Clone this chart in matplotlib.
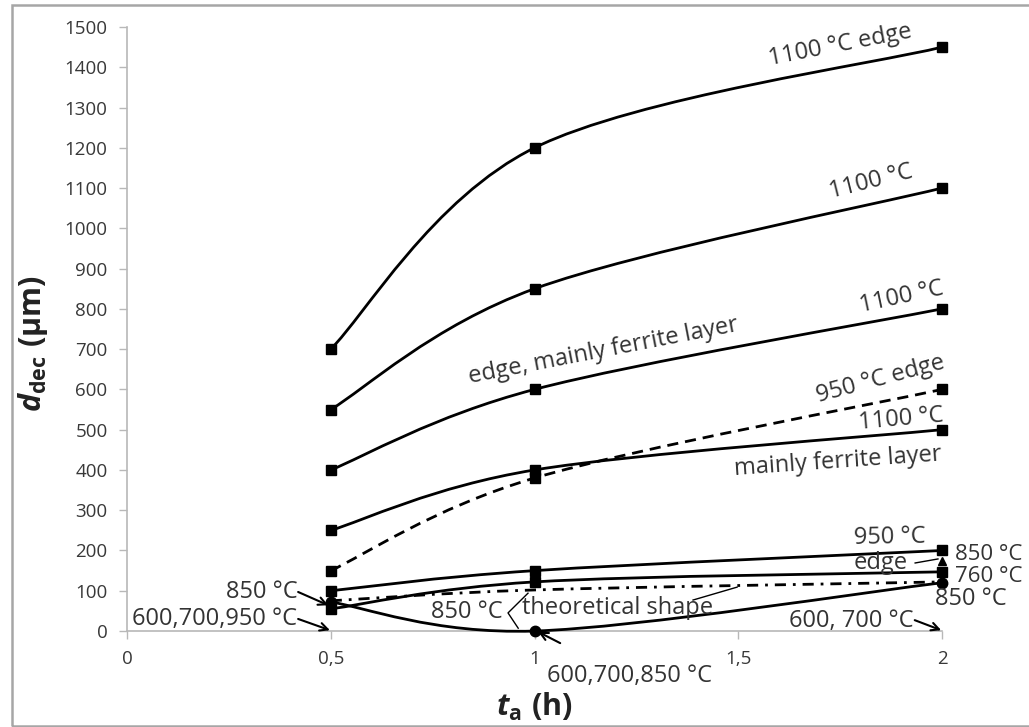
import numpy as np
import matplotlib
matplotlib.use("Agg")
import matplotlib.pyplot as plt
from matplotlib.path import Path
from matplotlib.patches import PathPatch, Rectangle

plt.rcParams['font.family'] = ['Open Sans', 'DejaVu Sans']
plt.rcParams['mathtext.fontset'] = 'custom'
plt.rcParams['mathtext.rm'] = 'Open Sans'
plt.rcParams['mathtext.bf'] = 'Open Sans:bold'
plt.rcParams['mathtext.it'] = 'Open Sans:italic'
plt.rcParams['mathtext.bfit'] = 'Open Sans:bold:italic'

# annealing time (h)
t_a = [0.5, 1, 2]

# decarburized depth (um)
d_1100_edge = [700, 1200, 1450]
d_1100 = [550, 850, 1100]
d_1100_edge_ferrite = [400, 600, 800]
d_950_edge = [150, 380, 600]
d_1100_ferrite = [250, 400, 500]
d_950 = [100, 150, 200]
d_760 = [55, 122, 147]
d_850 = [72, 0, 120]
d_theory = [75, 102, 122]
t_850_edge = [2]
d_850_edge = [175]

TXT = '#333333'
GRID = '#b8b8b8'


def smooth_path(xs, ys):
    # cubic bezier through the points, like a spreadsheet "smoothed line"
    p = np.column_stack([xs, ys]).astype(float)
    n = len(p)
    verts = [p[0]]
    codes = [Path.MOVETO]
    for i in range(n - 1):
        prev = p[i - 1] if i > 0 else p[i]
        nxt = p[i + 2] if i + 2 < n else p[i + 1]
        c1 = p[i] + (p[i + 1] - prev) / 6
        c2 = p[i + 1] - (nxt - p[i]) / 6
        verts += [c1, c2, p[i + 1]]
        codes += [Path.CURVE4] * 3
    return Path(verts, codes)


def draw(ax, xs, ys, marker='s', ms=6.5, dashes=None):
    patch = PathPatch(smooth_path(xs, ys), fill=False, ec='black', lw=2.0,
                      clip_on=False, zorder=3, capstyle='butt')
    if dashes is not None:
        patch.set_linestyle((0, dashes))
    ax.add_patch(patch)
    ax.plot(xs, ys, ls='none', marker=marker, ms=ms, color='black',
            clip_on=False, zorder=4)


fig = plt.figure(figsize=(10.29, 7.27), dpi=100)
ax = fig.add_axes([0.1234, 0.1320, 0.7921, 0.8309])

draw(ax, t_a, d_1100_edge)
draw(ax, t_a, d_1100)
draw(ax, t_a, d_1100_edge_ferrite)
draw(ax, t_a, d_950_edge, dashes=(4, 2.5))
draw(ax, t_a, d_1100_ferrite)
draw(ax, t_a, d_950)
draw(ax, t_a, d_760)
draw(ax, t_a, d_850, marker='o', ms=7.5)
draw(ax, t_a, d_theory, marker='none', dashes=(4, 2.5, 1, 2.5))
ax.plot(t_850_edge, d_850_edge, ls='none', marker='^', ms=6, color='black',
        clip_on=False, zorder=4)

ax.set_xlim(0, 2)
ax.set_ylim(0, 1500)
ax.set_xticks([0, 0.5, 1, 1.5, 2])
ax.set_xticklabels(['0', '0,5', '1', '1,5', '2'])
ax.set_yticks(np.arange(0, 1501, 100))

for s in ['top', 'right']:
    ax.spines[s].set_visible(False)
for s in ['left', 'bottom']:
    ax.spines[s].set_color(GRID)
    ax.spines[s].set_linewidth(1.2)
ax.tick_params(axis='both', direction='out', length=6, width=1, color=GRID,
               labelsize=13.5, labelcolor='#383838', pad=8)

ax.set_xlabel(r'$\mathbfit{t}_{\mathbf{a}}\ \mathbf{(h)}$', fontsize=22,
              color='#222222', labelpad=16)
ax.set_ylabel(r'$\mathbfit{d}_{\mathbf{dec}}\ \mathbf{(\mu m)}$', fontsize=22,
              color='#222222')
ax.yaxis.set_label_coords(-0.094, 0.475)

txt = dict(color=TXT, fontsize=17, clip_on=False, zorder=5)
small = dict(color=TXT, fontsize=16, clip_on=False, zorder=5)

# curve labels
ax.text(1.75, 1455, '1100 °C edge', ha='center', va='center', rotation=11, **txt)
ax.text(1.826, 1115, '1100 °C', ha='center', va='center', rotation=14, **txt)
ax.text(1.90, 830, '1100 °C', ha='center', va='center', rotation=12, **txt)
ax.text(1.17, 695, 'edge, mainly ferrite layer', ha='center', va='center',
        rotation=11, **txt)
ax.text(1.85, 624, '950 °C edge', ha='center', va='center', rotation=15, **txt)
ax.text(1.90, 526, '1100 °C', ha='center', va='center', rotation=5, **txt)
ax.text(1.745, 420, 'mainly ferrite layer', ha='center', va='center',
        rotation=4, **txt)
ax.text(1.872, 233, '950 °C', ha='center', va='center', rotation=1, **txt)
ax.text(1.85, 169, 'edge', ha='center', va='center', **txt)
ax.plot([1.934, 1.99], [169, 179], color='black', lw=1, clip_on=False)
ax.text(2.033, 190, '850 °C', ha='left', va='center', **small)
ax.text(2.033, 136, '760 °C', ha='left', va='center', **small)
ax.text(1.983, 79, '850 °C', ha='left', va='center', **txt)

# labels near the zero line
ax.text(0.835, 47, '850 °C', ha='center', va='center', **txt)
ax.plot([0.984, 0.935, 0.960], [94, 45, 7], color='black', lw=1, clip_on=False)
ax.text(0.969, 57, 'theoretical shape', ha='left', va='center', **txt)
ax.plot([1.389, 1.497], [77, 109], color='black', lw=1, clip_on=False)

arrow = dict(arrowstyle='->', color='black', lw=1.5, mutation_scale=14,
             shrinkA=0, shrinkB=0)
ax.text(0.418, 98, '850 °C', ha='right', va='center', **txt)
ax.annotate('', xy=(0.494, 64), xytext=(0.42, 97), arrowprops=arrow,
            annotation_clip=False)
ax.text(0.418, 30, '600,700,950 °C', ha='right', va='center', **txt)
ax.annotate('', xy=(0.498, 2), xytext=(0.42, 30), arrowprops=arrow,
            annotation_clip=False)
ax.text(1.929, 25, '600, 700 °C', ha='right', va='center', **txt)
ax.annotate('', xy=(1.998, 2), xytext=(1.933, 27), arrowprops=arrow,
            annotation_clip=False)
ax.text(1.031, -111, '600,700,850 °C', ha='left', va='center', **txt)
ax.annotate('', xy=(1.009, -2), xytext=(1.063, -30), arrowprops=arrow,
            annotation_clip=False)

# outer frame
fig.add_artist(Rectangle((12 / 1029, 1 / 727), 1.0, 721 / 727,
                         transform=fig.transFigure, fill=False,
                         ec='#a6a6a6', lw=1.8))

fig.savefig('out.png', dpi=100, facecolor='white')
